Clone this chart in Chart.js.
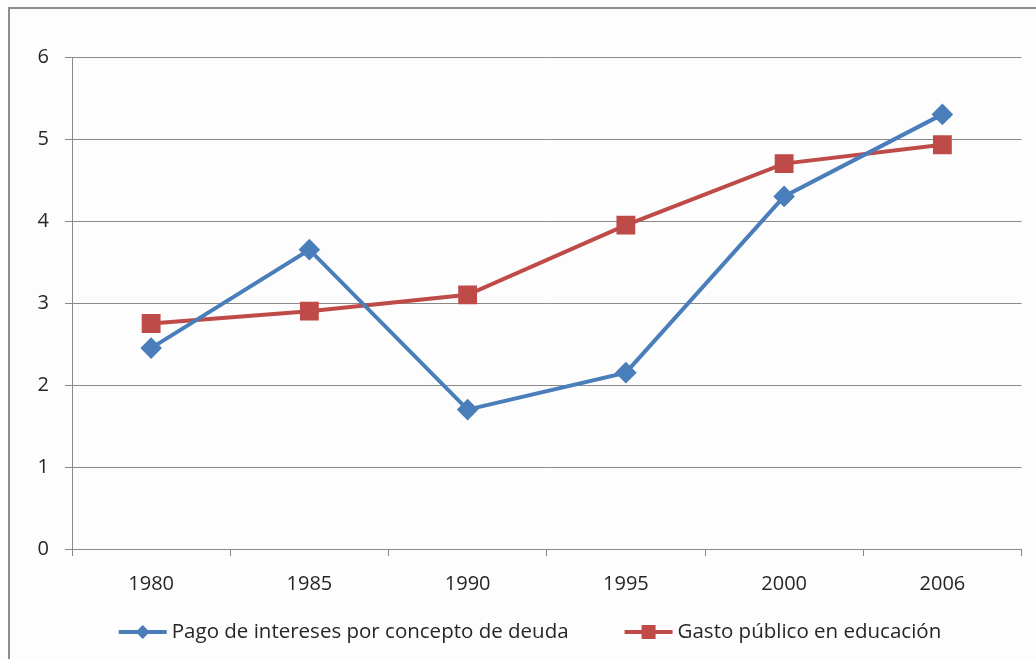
<!DOCTYPE html>
<html lang="es">
<head>
    <meta charset="UTF-8">
    <title>Pago de intereses y gasto público</title>
    <script src="https://cdn.jsdelivr.net/npm/chart.js"></script>
    <style>
        html, body { margin: 0; padding: 0; background: #fdfdfd; }
        #wrap { position: relative; width: 1036px; height: 659px; }
        #frame {
            position: absolute; left: 8px; top: 7px; width: 1040px; height: 670px;
            border-left: 2px solid #8c8c8c; border-top: 2px solid #8c8c8c;
            pointer-events: none;
        }
    </style>
</head>
<body>
<div id="wrap">
    <canvas id="lineChart" width="1036" height="659"></canvas>
    <div id="frame"></div>
</div>
<script>
    const years = ["1980", "1985", "1990", "1995", "2000", "2006"];
    const interesesDeuda = [2.45, 3.65, 1.7, 2.15, 4.3, 5.3];
    const gastoEducacion = [2.75, 2.9, 3.1, 3.95, 4.7, 4.93];
    const seriesNames = ["Pago de intereses por concepto de deuda", "Gasto público en educación"];

    const blue = "#4a7ebb";
    const red = "#be4b48";
    const gridGrey = "#8a8a8a";
    const textColor = "#262626";
    const fontFamily = "'Open Sans', Lato, sans-serif";

    // legend drawn under the axis: line + marker + text, like the spreadsheet one
    const bottomLegend = {
        id: "bottomLegend",
        afterDraw(chart) {
            const ctx = chart.ctx;
            const y = 632;
            const lineLen = 48;
            const gap = 56;
            ctx.save();
            ctx.font = "20.5px " + fontFamily;
            const items = chart.data.datasets.map(ds => ({
                ds: ds,
                w: lineLen + 5 + ctx.measureText(ds.label).width
            }));
            const total = items.reduce((s, it) => s + it.w, 0) + gap * (items.length - 1);
            let x = 530 - total / 2;
            items.forEach(it => {
                const ds = it.ds;
                ctx.strokeStyle = ds.borderColor;
                ctx.lineWidth = 4;
                ctx.beginPath();
                ctx.moveTo(x, y);
                ctx.lineTo(x + lineLen, y);
                ctx.stroke();
                ctx.fillStyle = ds.borderColor;
                const cx = x + lineLen / 2;
                ctx.beginPath();
                if (ds.pointStyle === "rectRot") {
                    ctx.moveTo(cx, y - 7);
                    ctx.lineTo(cx + 7, y);
                    ctx.lineTo(cx, y + 7);
                    ctx.lineTo(cx - 7, y);
                    ctx.closePath();
                } else {
                    ctx.rect(cx - 7, y - 7, 14, 14);
                }
                ctx.fill();
                ctx.fillStyle = textColor;
                ctx.textBaseline = "middle";
                ctx.fillText(ds.label, x + lineLen + 5, y);
                x += it.w + gap;
            });
            ctx.restore();
        }
    };

    Chart.defaults.font.family = fontFamily;
    Chart.defaults.color = textColor;

    const ctx = document.getElementById("lineChart").getContext("2d");
    new Chart(ctx, {
        type: "line",
        data: {
            labels: years,
            datasets: [{
                label: seriesNames[0],
                data: interesesDeuda,
                borderColor: blue,
                backgroundColor: blue,
                borderWidth: 4,
                pointStyle: "rectRot",
                pointRadius: 8,
                pointHoverRadius: 8,
                tension: 0
            }, {
                label: seriesNames[1],
                data: gastoEducacion,
                borderColor: red,
                backgroundColor: red,
                borderWidth: 4,
                pointStyle: "rect",
                pointRadius: 10.5,
                pointHoverRadius: 10.5,
                tension: 0
            }]
        },
        options: {
            responsive: false,
            animation: false,
            layout: { padding: { left: 10, top: 57, right: 14, bottom: 0 } },
            plugins: {
                legend: { display: false },
                tooltip: { enabled: false }
            },
            scales: {
                x: {
                    offset: true,
                    grid: {
                        offset: true,
                        drawOnChartArea: false,
                        drawTicks: true,
                        tickLength: 7,
                        color: gridGrey
                    },
                    border: { color: gridGrey, width: 1 },
                    ticks: { padding: 16, font: { size: 20 }, color: textColor },
                    afterFit(scale) { scale.height = 110; }
                },
                y: {
                    min: 0,
                    max: 6,
                    ticks: { stepSize: 1, padding: 16, font: { size: 20 }, color: textColor },
                    grid: { color: gridGrey, tickLength: 7 },
                    border: { color: gridGrey, width: 1 },
                    afterFit(scale) { scale.width = 62; }
                }
            }
        },
        plugins: [bottomLegend]
    });
</script>
</body>
</html>
